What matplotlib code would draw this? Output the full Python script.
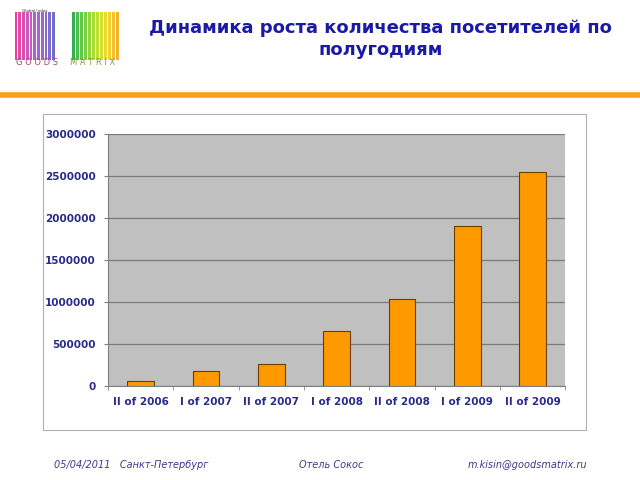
import matplotlib.pyplot as plt
import matplotlib.patches as patches
import numpy as np

# data
periods = ["II of 2006", "I of 2007", "II of 2007", "I of 2008",
           "II of 2008", "I of 2009", "II of 2009"]
visitors = [60000, 175000, 260000, 650000, 1030000, 1905000, 2545000]
yticks = [0, 500000, 1000000, 1500000, 2000000, 2500000, 3000000]

# logo stripes
left_colors = ["#e8409a", "#e04aa6", "#d94fb0", "#c85ab8", "#c25cc0", "#b060c8",
               "#a864cc", "#9868ce", "#8a6ad0", "#7c6ccf", "#6f6ccc"]
right_colors = ["#30b050", "#4cc04c", "#60c848", "#78d040", "#90d838", "#a8dc30",
                "#c0e030", "#d0e030", "#e8d830", "#f0d030", "#f4c030", "#f4b030"]

title_col = "#1a1aa6"
tick_col = "#2a2a8c"

fig = plt.figure(figsize=(6.4, 4.8), dpi=100)
fig.patch.set_facecolor("white")

# header
fig.text(0.595, 0.942, "Динамика роста количества посетителей по",
         ha="center", va="center", fontsize=13, fontweight="bold", color=title_col)
fig.text(0.595, 0.895, "полугодиям",
         ha="center", va="center", fontsize=13, fontweight="bold", color=title_col)
fig.add_artist(plt.Line2D([0, 1], [0.802, 0.802], color="#f7a11a", lw=4))

# logo
logo = fig.add_axes([0.022, 0.875, 0.175, 0.10])
logo.set_xlim(0, 12.5)
logo.set_ylim(0, 1)
logo.axis("off")
for i, c in enumerate(left_colors):
    logo.bar(i * 0.42 + 0.2, 1, width=0.3, color=c)
for i, c in enumerate(right_colors):
    logo.bar(6.4 + i * 0.45 + 0.2, 1, width=0.32, color=c)
fig.text(0.025, 0.87, "G O O D S", fontsize=6, color="#b0407a", va="center")
fig.text(0.11, 0.87, "M A T R I X", fontsize=6, color="#80a030", va="center")
fig.text(0.035, 0.978, "Global Index", fontsize=3, color="#333333", va="center")

# chart frame
fig.add_artist(patches.Rectangle((0.067, 0.104), 0.848, 0.658, transform=fig.transFigure,
                                 fill=False, edgecolor="#b0b0b0", lw=0.8))

ax = fig.add_axes([0.169, 0.196, 0.714, 0.525])
ax.set_facecolor("#c0c0c0")
x = np.arange(len(periods))
ax.bar(x, visitors, width=0.41, color="#ff9900", edgecolor="#6a4000", lw=0.8, zorder=3)
ax.set_xlim(-0.5, len(periods) - 0.5)
ax.set_ylim(0, 3000000)
ax.set_yticks(yticks)
ax.set_yticklabels([str(v) for v in yticks])
ax.yaxis.grid(True, color="#7a7a7a", lw=0.9)
ax.set_axisbelow(True)
ax.set_xticks(x)
ax.set_xticklabels(periods)
ax.set_xticks(np.arange(-0.5, len(periods)), minor=True)
ax.tick_params(axis="x", which="major", length=0, pad=8, labelsize=7.5, labelcolor=tick_col)
ax.tick_params(axis="x", which="minor", length=3, color="#808080")
ax.tick_params(axis="y", length=3, color="#808080", labelsize=7.5, labelcolor=tick_col, pad=6)
for lab in ax.get_xticklabels() + ax.get_yticklabels():
    lab.set_fontweight("bold")
for s in ["top", "right"]:
    ax.spines[s].set_visible(False)
ax.spines["left"].set_color("#808080")
ax.spines["bottom"].set_color("#808080")

# footer
foot_col = "#3a3a8a"
fig.text(0.085, 0.025, "05/04/2011   Санкт-Петербург", fontsize=7, style="italic", color=foot_col)
fig.text(0.467, 0.025, "Отель Сокос", fontsize=7, style="italic", color=foot_col)
fig.text(0.917, 0.025, "m.kisin@goodsmatrix.ru", fontsize=7, style="italic",
         color=foot_col, ha="right")

fig.savefig("out.png", dpi=100)
